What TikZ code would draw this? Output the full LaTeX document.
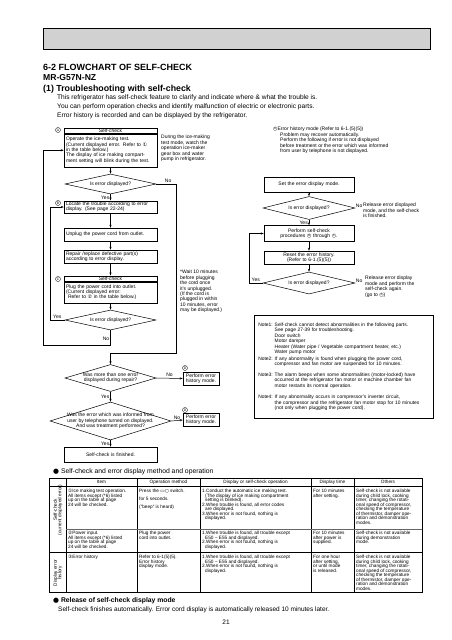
\documentclass[tikz,border=0pt]{standalone}
\usepackage{graphicx}
\usepackage{fontspec}
\setmainfont{Liberation Sans}
\newfontfamily\dvfont{DejaVu Sans}
\usetikzlibrary{arrows.meta,shapes.geometric}

\newcommand\flowfont{\fontsize{5}{5.4}\selectfont}
\newcommand\notefont{\fontsize{4.9}{5.5}\selectfont}
\newcommand\tabfont{\fontsize{4.7}{4.55}\selectfont}
\newcommand\encl[1]{{\dvfont #1}}
\newsavebox\ringbox
\newcommand\cltr[1]{\mbox{\sbox\ringbox{\dvfont ○}\rlap{\usebox\ringbox}\makebox[\wd\ringbox]{\raisebox{0.2em}{\scalebox{0.55}{#1}}}}}

\begin{document}
\begin{tikzpicture}
[x=1pt,y=-1pt
,fb/.style={draw,line width=0.5pt,text width=89pt,inner xsep=2pt,inner ysep=1pt,font=\flowfont,align=left}
,fbc/.style={fb,align=center}
,hd/.style={fbc,minimum height=5.5pt,inner ysep=0pt}
,dm/.style={diamond,draw,line width=0.5pt,inner sep=0pt,font=\flowfont,align=center}
,fl/.style={draw=black,line width=0.5pt,arrows={-Stealth[length=3pt,width=2.2pt]}}
,lbl/.style={font=\flowfont,inner sep=1pt}
,tag/.style={circle,draw,line width=0.35pt,inner sep=0.3pt,minimum size=5pt,font=\fontsize{3.4}{3.4}\selectfont}
,txt/.style={font=\flowfont,align=left,inner sep=0pt}
,tb/.style={font=\tabfont,align=left,inner sep=0pt,anchor=north west}
,th/.style={font=\tabfont,inner sep=0pt}
,tbl/.style={draw=black,line width=0.5pt}
]
\useasboundingbox (0,0) rectangle (452,640);

% page heading
\draw[line width=0.8pt,fill=black!18] (43,28) rectangle (430,49);
\node[anchor=west,inner sep=0pt,font=\fontsize{9}{10}\selectfont\bfseries] (ttl) at (43,67) {6-2 FLOWCHART OF SELF-CHECK};
\node[anchor=west,inner sep=0pt,font=\fontsize{8.6}{10}\selectfont\bfseries] (model) at (43,78) {MR-G57N-NZ};
\node[anchor=west,inner sep=0pt,font=\fontsize{8.8}{10}\selectfont\bfseries] (sub) at (43,89) {(1) Troubleshooting with self-check};
\node[anchor=north west,inner sep=0pt,align=left,font=\fontsize{6.6}{9}\selectfont] (intro) at (57,95) {This refrigerator has self-check feature to clarify and indicate where \& what the trouble is.\\You can perform operation checks and identify malfunction of electric or electronic parts.\\Error history is recorded and can be displayed by the refrigerator.};

% left flow
\node[hd] (chkAh) at (110.5,130.5) {Self-check};
\node[fb,anchor=north,minimum height=33pt] (chkA) at (chkAh.south) {Operate the ice-making test.\\(Current displayed error. Refer to \encl{①}\\in the table below.)\\The display of ice making compart-\\ment setting will blink during the test.};
\node[tag] (tagA) at (58,130) {A};
\node[txt,anchor=north west] (durNote) at (161,135) {During the ice-making\\test mode, watch the\\operation ice-maker\\gear box and water\\pump in refrigerator.};
\node[dm,minimum width=91pt,minimum height=20pt,aspect=4.5] (errA) at (110.5,184) {Is error displayed?};
\node[fb,minimum height=12.5pt] (locB) at (110.5,207) {Locate the trouble according to error\\display. (See page 22-24)};
\node[tag] (tagB) at (58,203) {B};
\node[fb,minimum height=13pt] (unplug) at (110.5,234.5) {Unplug the power cord from outlet.};
\node[fb,minimum height=13pt] (repair) at (110.5,256.5) {Repair /replace defective part(s)\\according to error display.};
\node[hd] (chkCh) at (110.5,278.5) {Self-check};
\node[fb,anchor=north,minimum height=21pt] (chkC) at (chkCh.south) {Plug the power cord into outlet.\\(Current displayed error:\\\hspace*{2pt}Refer to \encl{②} in the table below.)};
\node[tag] (tagC) at (58,279) {C};
\node[txt,anchor=north west] (waitNote) at (180,270) {*Wait 10 minutes\\before plugging\\the cord once\\it's unplugged.\\(If the cord is\\plugged in within\\10 minutes, error\\may be displayed.)};
\node[dm,minimum width=91pt,minimum height=20pt,aspect=4.5] (errC) at (110.5,320) {Is error displayed?};
\coordinate (backA) at (43,345);
\coordinate (noA) at (176,353);
\node[dm,minimum width=91pt,minimum height=27pt,aspect=3.4] (moreErr) at (110.5,378) {Was more than one error\\displayed during repair?};
\node[fbc,text width=32pt,minimum height=13pt] (histA) at (201,378.5) {Perform error\\history mode.};
\node[tag] (tagD1) at (185,368) {D};
\node[dm,minimum width=121pt,minimum height=38pt,aspect=3.2,inner sep=-2pt] (telErr) at (110.5,421) {Was the error which was informed from\\user by telephone turned on displayed.\\And was treatment performed?};
\node[fbc,text width=32pt,minimum height=13pt] (histB) at (201,420) {Perform error\\history mode.};
\node[tag] (tagD2) at (185,410) {D};
\node[fbc,minimum height=15pt] (finBox) at (110.5,454.5) {Self-check is finished.};

\draw[fl] (chkA.south) -- (errA.north);
\draw[fl] (errA.south) -- node[lbl,left] (yA) {Yes} (locB.north);
\draw[fl] (locB.south) -- (unplug.north);
\draw[fl] (unplug.south) -- (repair.north);
\draw[fl] (repair.south) -- (chkCh.north);
\draw[fl] (chkC.south) -- (errC.north);
\draw[fl] (errC.west) -- node[lbl,above] (yC) {Yes} ++(-15,0) |- (locB.west);
\draw[fl] (errC.south) |- node[lbl,left,pos=0.3] (nC) {No} (backA) |- (chkA.west);
\draw[fl] (errA.east) -| node[lbl,above,pos=0.3] (nA) {No} (noA) -| (moreErr.north);
\draw[fl] (moreErr.east) -- node[lbl,above] (nM) {No} (histA.west);
\draw[fl] (moreErr.south) -- node[lbl,left] (yM) {Yes} (telErr.north);
\draw[fl] (telErr.east) -- node[lbl,above] (nT) {No} (histB.west);
\draw[fl] (telErr.south) -- node[lbl,left] (yT) {Yes} (finBox.north);

% right flow
\node[txt,anchor=north west] (dNote) at (273,127) {\cltr{D}Error history mode (Refer to 6-1.(5)(5))\\\hspace*{7pt}Problem may recover automatically.\\\hspace*{7pt}Perform the following if error is not displayed\\\hspace*{7pt}before treatment or the error which was informed\\\hspace*{7pt}from user by telephone is not displayed.};
\node[fbc,text width=86pt,minimum height=15pt] (setMode) at (309,184.5) {Set the error display mode.};
\node[dm,minimum width=92pt,minimum height=23pt,aspect=4] (errD) at (309,208) {Is error displayed?};
\node[lbl,anchor=south west,inner sep=0.5pt] (nD) at (errD.east) {No};
\node[txt,anchor=north west] (relD) at (363,203) {Release error displayed\\mode, and the self-check\\is finished.};
\node[fbc,text width=86pt,minimum height=16pt] (perf) at (309,233.5) {Perform self-check\\procedures \cltr{B} through \cltr{C}.};
\node[fbc,text width=86pt,minimum height=13pt] (reset) at (309,257.5) {Reset the error history.\\(Refer to 6-1.(5)(5))};
\node[dm,minimum width=92pt,minimum height=22pt,aspect=4.2] (errE) at (309,283) {Is error displayed?};
\node[lbl,anchor=south west,inner sep=0.5pt] (nE) at (errE.east) {No};
\node[txt,anchor=north west] (relE) at (365,276) {Release error display\\mode and perform the\\self-check again.\\(go to \cltr{A})};

\draw[fl] (setMode.south) -- (errD.north);
\draw[fl] (errD.south) -- node[lbl,left] (yD) {Yes} (perf.north);
\draw[fl] (perf.south) -- (reset.north);
\draw[fl] (reset.south) -- (errE.north);
\draw[fl] (errE.west) -- node[lbl,above] (yE) {Yes} ++(-14,0) |- (perf.west);

% notes
\node[draw,line width=0.6pt,anchor=north west,text width=171pt,inner xsep=4pt,minimum height=103pt,font=\notefont,align=left] (noteBox) at (254,315) {%
\begin{tabular}{@{}l@{\hspace{2pt}}l@{}}
Note1: & Self-check cannot detect abnormalities in the following parts.\\
 & See page 27-39 for troubleshooting.\\
 & Door switch\\
 & Motor damper\\
 & Heater (Water pipe / Vegetable compartment heater, etc.)\\
 & Water pump motor\\[1pt]
Note2: & If any abnormality is found when plugging the power cord,\\
 & compressor and fan motor are suspended for 10 minutes.\\[5pt]
Note3: & The alarm beeps when some abnormalities (motor-locked) have\\
 & occurred at the refrigerator fan motor or machine chamber fan\\
 & motor restarts its normal operation.\\[6pt]
Note4: & If any abnormality occurs in compressor's inverter circuit,\\
 & the compressor and the refrigerator fan motor stop for 10 minutes\\
 & (not only when plugging the power cord).
\end{tabular}};

% table
\node[anchor=west,inner sep=0pt,font=\fontsize{6.8}{8}\selectfont] (tabTtl) at (53,472) {\encl{●} Self-check and error display method and operation};
\draw[tbl,line width=0.8pt] (49,478) rectangle (422,592);
\draw[tbl] (49,486) -- (422,486);
\draw[tbl] (66,478) -- (66,592);
\draw[tbl] (137,478) -- (137,592);
\draw[tbl] (200,478) -- (200,592);
\draw[tbl] (311,478) -- (311,592);
\draw[tbl] (354,478) -- (354,592);
\draw[tbl,line width=1pt,draw=black!60] (66,529) -- (422,529);
\draw[tbl] (49,552) -- (422,552);

\node[th] (hItem) at (101.5,482) {Item};
\node[th] (hOp) at (168.5,482) {Operation method};
\node[th] (hDisp) at (255.5,482) {Display or self-check operation};
\node[th] (hTime) at (332.5,482) {Display time};
\node[th] (hOth) at (388,482) {Others};
\node[th,rotate=90,align=center] (sideA) at (58,510) {Self-check\\(current displayed error)};
\node[th,rotate=90,align=center] (sideB) at (58,573) {Display error\\history};

\node[tb] (r1Item) at (68,489) {\encl{①}Ice making test operation.\\All items except (*6) listed\\up on the table at page\\24 will be checked.};
\node[tb] (r1Op) at (139,489) {Press the \encl{▭}\encl{○} switch.\\[3.5pt]for 5 seconds.\\[3.5pt]("beep" is heard)};
\node[tb] (r1Disp) at (202,489) {1.Conduct the automatic ice making test.\\\hspace*{3pt}(The display of ice making compartment\\\hspace*{3pt}setting is blinked).\\2.When trouble is found, all error codes\\\hspace*{3pt}are displayed.\\3.When error is not found, nothing is\\\hspace*{3pt}displayed.};
\node[tb] (r1Time) at (313,489) {For 10 minutes\\after setting.};
\node[tb] (r1Oth) at (356,489) {Self-check is not available\\during child lock, cooking\\timer, changing the rotati-\\onal speed of compressor,\\checking the temperature\\of thermistor, damper ope-\\ration and demonstration\\modes.};

\node[tb] (r2Item) at (68,531) {\encl{②}Power input.\\All items except (*6) listed\\up on the table at page\\24 will be checked.};
\node[tb] (r2Op) at (139,531) {Plug the power\\cord into outlet.};
\node[tb] (r2Disp) at (202,531) {1.When trouble is found, all trouble except\\\hspace*{3pt}E50 \textasciitilde{} E55 and displayed.\\2.When error is not found, nothing is\\\hspace*{3pt}displayed.};
\node[tb] (r2Time) at (313,531) {For 10 minutes\\after power is\\supplied.};
\node[tb] (r2Oth) at (356,531) {Self-check is not available\\during demonstration\\mode.};

\node[tb] (r3Item) at (68,555) {\encl{③}Error history};
\node[tb] (r3Op) at (139,555) {Refer to 6-1(5)(5).\\Error history\\display mode.};
\node[tb] (r3Disp) at (202,555) {1.When trouble is found, all trouble except\\\hspace*{3pt}E50 \textasciitilde{} E55 and displayed.\\2.When error is not found, nothing is\\\hspace*{3pt}displayed.};
\node[tb] (r3Time) at (313,555) {For one hour\\after setting,\\or until mode\\is released.};
\node[tb] (r3Oth) at (356,555) {Self-check is not available\\during child lock, cooking\\timer, changing the rotati-\\onal speed of compressor,\\checking the temperature\\of thermistor, damper ope-\\ration and demonstration\\modes.};

% release note
\node[anchor=west,inner sep=0pt,font=\fontsize{6.8}{8}\selectfont\bfseries] (relTtl) at (53,601) {\encl{●} Release of self-check display mode};
\node[anchor=west,inner sep=0pt,font=\fontsize{6.5}{8}\selectfont] (relTxt) at (58,610) {Self-check finishes automatically. Error cord display is automatically released 10 minutes later.};
\node[inner sep=0pt,font=\fontsize{6.5}{8}\selectfont] (pageNo) at (226,622) {21};
\end{tikzpicture}
\end{document}
